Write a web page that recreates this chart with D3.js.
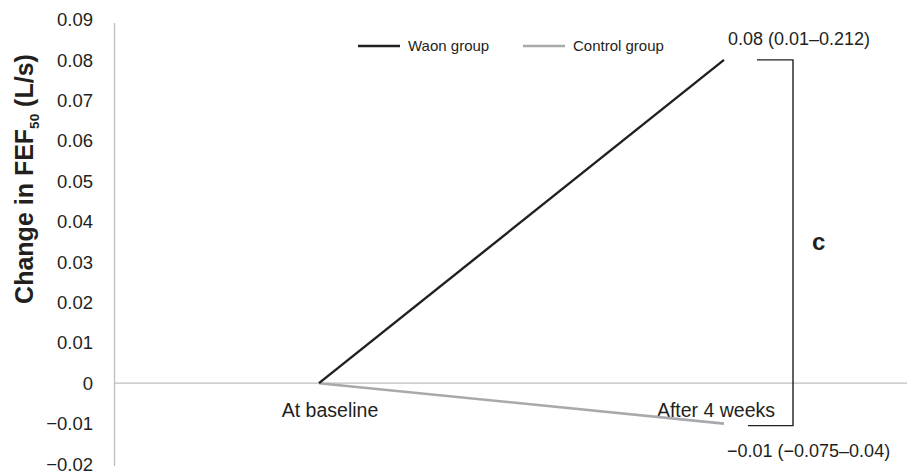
<!DOCTYPE html>
<html><head><meta charset="utf-8">
<script src="https://cdn.jsdelivr.net/npm/d3@7"></script>
<style>body{margin:0;background:#fff}svg{display:block;font-family:Arial,"Liberation Sans",sans-serif}</style>
</head><body><svg id="c" width="907" height="474"></svg>
<script>
const categories = ["At baseline", "After 4 weeks"];
const waonValues = [0, 0.08];
const controlValues = [0, -0.01];
const seriesNames = ["Waon group", "Control group"];
const endLabels = ["0.08 (0.01–0.212)", "−0.01 (−0.075–0.04)"];
const yTicks = [-0.02,-0.01,0,0.01,0.02,0.03,0.04,0.05,0.06,0.07,0.08,0.09];

const svg = d3.select("#c");
const x = d3.scalePoint().domain(categories).range([319, 724]);
const y = d3.scaleLinear().domain([-0.02, 0.09]).range([464, 19.5]);
const fmt = v => v === 0 ? "0" : d3.format(".2f")(v);
const ink = "#231f20";

// y axis line
svg.append("line").attr("x1",114.5).attr("x2",114.5).attr("y1",23).attr("y2",466)
  .attr("stroke","#bcbec0").attr("stroke-width",1.3);
// zero line
svg.append("line").attr("x1",114).attr("x2",907).attr("y1",y(0)).attr("y2",y(0))
  .attr("stroke","#bcbec0").attr("stroke-width",1.3);

// tick labels
svg.append("g").selectAll("text").data(yTicks).join("text")
  .attr("x",93).attr("y",d=>y(d)).attr("dy","0.36em").attr("text-anchor","end")
  .attr("font-size",18.5).attr("fill",ink).text(fmt);

// y title
const t = svg.append("text").attr("transform","translate(33,179) rotate(-90)")
  .attr("text-anchor","middle").attr("font-size",25).attr("font-weight","bold").attr("fill",ink);
t.append("tspan").text("Change in FEF");
t.append("tspan").attr("font-size",13.5).attr("dy",6).text("50");
t.append("tspan").attr("dy",-6).text(" (L/s)");

// category labels
const catShift = [11, -8];
svg.append("g").selectAll("text").data(categories).join("text")
  .attr("x",(d,i)=>x(d)+catShift[i]).attr("y",416.5).attr("text-anchor","middle")
  .attr("font-size",19.5).attr("fill",ink).text(d=>d);

// lines
const line = d3.line().x((d,i)=>x(categories[i])).y(d=>y(d));
svg.append("path").attr("d",line(controlValues)).attr("fill","none").attr("stroke","#a7a9ac").attr("stroke-width",2.6);
svg.append("path").attr("d",line(waonValues)).attr("fill","none").attr("stroke",ink).attr("stroke-width",2.4);

// end labels
svg.append("text").attr("x",728).attr("y",45).attr("font-size",18).attr("fill",ink).text(endLabels[0]);
svg.append("text").attr("x",727).attr("y",456.5).attr("font-size",18).attr("fill",ink).text(endLabels[1]);

// bracket
const bx = 793;
svg.append("path").attr("d",`M757,${y(waonValues[1])}H${bx}V${y(controlValues[1])+2}H748`)
  .attr("fill","none").attr("stroke",ink).attr("stroke-width",1.4);
svg.append("text").attr("x",812).attr("y",250).attr("font-size",24).attr("font-weight","bold").attr("fill",ink).text("c");

// legend
const leg = [{n:seriesNames[0],c:ink,x:358},{n:seriesNames[1],c:"#a7a9ac",x:523}];
leg.forEach(l=>{
  svg.append("line").attr("x1",l.x).attr("x2",l.x+42).attr("y1",46).attr("y2",46).attr("stroke",l.c).attr("stroke-width",2.4);
  svg.append("text").attr("x",l.x+50).attr("y",51).attr("font-size",15).attr("fill",ink).text(l.n);
});
</script></body></html>
